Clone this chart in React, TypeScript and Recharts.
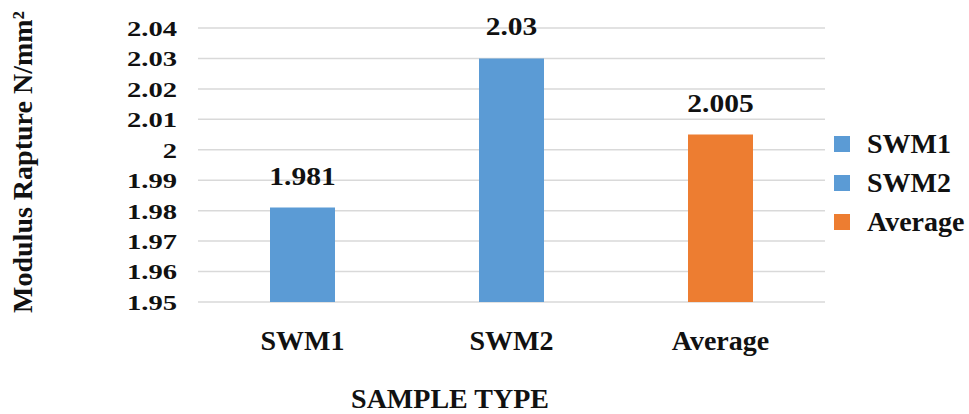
import { Bar, BarChart, CartesianGrid, Cell, LabelList, Legend, XAxis, YAxis } from "recharts";

const FONT = "'Liberation Serif', 'Times New Roman', serif";

const categories = ["SWM1", "SWM2", "Average"];
const values = [1.981, 2.03, 2.005];
const barColors = ["#5B9BD5", "#5B9BD5", "#ED7D31"];
const yTicks = [1.95, 1.96, 1.97, 1.98, 1.99, 2, 2.01, 2.02, 2.03, 2.04];

const data = categories.map((name, i) => ({ name, value: values[i] }));

const fmt = (v: number) => String(Number(v.toFixed(3)));

const YTick = (props: any) => {
  const { x, y, payload } = props;
  return (
    <g transform={`translate(${x},${y})`}>
      <text
        transform="scale(1.3,1)"
        textAnchor="end"
        dy="0.36em"
        fontSize={22}
        fontWeight="bold"
        fontFamily={FONT}
        fill="#111"
      >
        {fmt(payload.value)}
      </text>
    </g>
  );
};

const XTick = (props: any) => {
  const { x, y, payload } = props;
  return (
    <text
      x={x}
      y={y + 40}
      textAnchor="middle"
      fontSize={28}
      fontWeight="bold"
      fontFamily={FONT}
      fill="#111"
    >
      {payload.value}
    </text>
  );
};

const ValueLabel = (props: any) => {
  const { x, y, width, value } = props;
  return (
    <g transform={`translate(${x + width / 2},${y - 23})`}>
      <text
        transform="scale(1.18,1)"
        textAnchor="middle"
        fontSize={25}
        fontWeight="bold"
        fontFamily={FONT}
        fill="#111"
      >
        {fmt(value)}
      </text>
    </g>
  );
};

const LegendBox = () => (
  <div style={{ fontFamily: FONT, fontWeight: "bold", fontSize: 28, color: "#111" }}>
    {categories.map((c, i) => (
      <div key={c} style={{ display: "flex", alignItems: "center", height: 39 }}>
        <span
          style={{
            display: "inline-block",
            width: 16,
            height: 16,
            background: barColors[i],
            marginRight: 17,
          }}
        />
        <span>{c}</span>
      </div>
    ))}
  </div>
);

export default function App() {
  return (
    <div style={{ position: "absolute", left: 0, top: 0, background: "#fff" }}>
      <BarChart
        width={969}
        height={414}
        data={data}
        margin={{ top: 28, right: 144, bottom: 82, left: 0 }}
      >
        <CartesianGrid vertical={false} stroke="#d9d9d9" strokeWidth={1.5} />
        <XAxis
          dataKey="name"
          height={30}
          axisLine={false}
          tickLine={false}
          tickMargin={2}
          tick={<XTick />}
          label={{
            value: "SAMPLE TYPE",
            content: (p: any) => (
              <text
                x={p.viewBox.x + 252}
                y={p.viewBox.y + 106}
                textAnchor="middle"
                fontSize={28}
                fontWeight="bold"
                fontFamily={FONT}
                fill="#111"
              >
                SAMPLE TYPE
              </text>
            ),
          }}
        />
        <YAxis
          width={198}
          domain={[1.95, 2.04]}
          ticks={yTicks}
          interval={0}
          axisLine={false}
          tickLine={false}
          tickMargin={15}
          tick={<YTick />}
          label={{
            value: "Modulus Rapture N/mm²",
            content: (p: any) => (
              <text
                transform={`translate(32,${p.viewBox.y + 134}) rotate(-90)`}
                textAnchor="middle"
                fontSize={28}
                fontWeight="bold"
                fontFamily={FONT}
                fill="#111"
              >
                Modulus Rapture N/mm²
              </text>
            ),
          }}
        />
        <Legend
          layout="vertical"
          align="center"
          verticalAlign="middle"
          wrapperStyle={{ left: 834, top: 124, width: 135 }}
          content={() => <LegendBox />}
        />
        <Bar dataKey="value" barSize={65} isAnimationActive={false}>
          {data.map((d, i) => (
            <Cell key={d.name} fill={barColors[i]} />
          ))}
          <LabelList dataKey="value" content={<ValueLabel />} />
        </Bar>
      </BarChart>
    </div>
  );
}
